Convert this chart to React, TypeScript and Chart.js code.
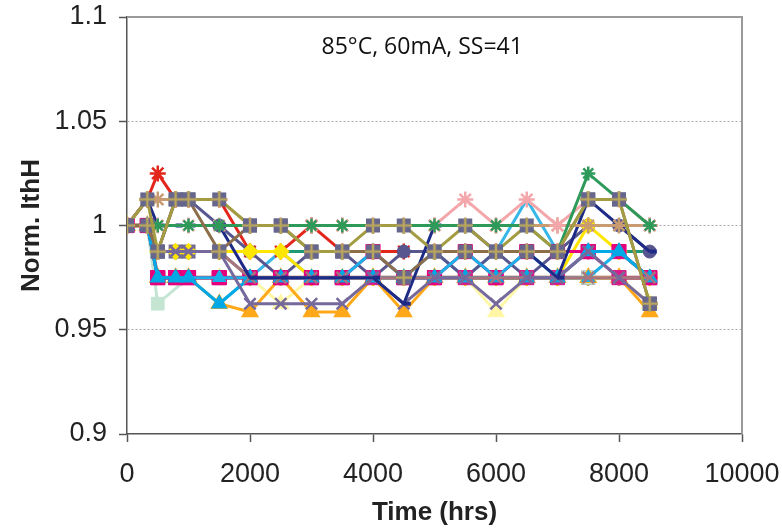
import React, { useEffect, useRef } from "react";
import { Chart, registerables } from "chart.js";

Chart.register(...registerables);

// ---- data ----
const hours = [0, 330, 500, 790, 1000, 1500, 2000, 2500, 3000, 3500, 4000, 4500, 5000, 5500, 6000, 6500, 7000, 7500, 8000, 8500];
const xTicks = [0, 2000, 4000, 6000, 8000, 10000];
const yTicks = [0.9, 0.95, 1, 1.05, 1.1];
const titleText = "85°C, 60mA, SS=41";
const xTitle = "Time (hrs)";
const yTitle = "Norm. IthH";

const devA = [1, 1.0125, 0.9875, 1.0125, 1.0125, 1.0125, 1.0, 1.0, 0.9875, 0.9875, 1.0, 1.0, 0.9875, 1.0, 0.9875, 1.0, 0.9875, 1.0125, 1.0125, 0.9625];
const devB = [1, 1, 0.9875, 1.0125, 1.0125, 0.9875, 1.0, 1.0, 0.9875, 0.9875, 0.9875, 0.975, 0.9875, 0.9875, 0.9875, 0.9875, 0.9875, 1.0125, 1.0125, 0.9625];
const devC = [1, 1, 0.9875, 0.9875, 0.9875, 0.9875, 0.975, 0.975, 0.975, 0.975, 0.975, 0.975, 0.975, 0.975, 0.975, 0.975, 0.975, 0.975, 0.975, 0.9625];
const devRed = [1, 1.0125, 1.025, 1.0125, 1.0125, 1.0125, 0.9875, 0.9875, 1.0, 0.9875, 0.9875, 0.9875, 0.9875, 0.9875, 0.9875, 0.9875, 0.9875, 0.9875, 0.9875, 0.975];
const devGreen = [1, 1, 1, null, 1, 1, 1, 1, 1, 1, 1, 1, 1, 1, 1, 1, 0.9875, 1.025, 1.0125, 1.0];
const devPink = [1, 1, 1, null, 1, 1, 1, 1, 1, 1, 1, 1, 1, 1.0125, 1, 1.0125, 1, 1.0125, 1.0125, 1.0];
const devTan = [1, 1.0125, 1.0125, 1.0125, 1.0125, 1.0125, 1, 1, 1, 1, 1, 1, 1, 1, 1, 1, 1, 1, 1, 1];
const devCircle = [1, 1, 0.9875, 1.0125, 1.0125, 1.0, 0.9875, 0.975, 0.9875, 0.9875, 0.975, 0.9875, 0.9875, 0.975, 0.9875, 0.975, 0.9875, 1.0, 1.0, 0.9875];
const devNavy = [1, 1.0125, 1.0, 1.0, 1.0, 1.0, 0.975, 0.975, 0.975, 0.975, 0.975, 0.9625, 1.0, 1.0, 0.9875, 0.9875, 0.975, 1.0125, 1.0, 0.9875];
const devYellow = [1, 1, 0.9875, 0.9875, 0.9875, 0.9875, 0.9875, 0.9875, 0.975, 0.975, 0.975, 0.975, 0.975, 0.975, 0.975, 0.975, 0.975, 1.0, 0.9875, 0.975];
const devMagenta = [1, 1, 0.975, 0.975, 0.975, 0.975, 0.975, 0.975, 0.975, 0.975, 0.9875, 0.975, 0.975, 0.9875, 0.975, 0.9875, 0.9875, 0.9875, 0.9875, 0.975];
const devMagenta2 = [1, 1, 0.975, 0.975, 0.975, 0.975, 0.975, 0.975, 0.975, 0.975, 0.975, 0.975, 0.975, 0.975, 0.975, 0.975, 0.975, 0.9875, 0.975, 0.975];
const devCyan = [1, 1, 0.975, 0.975, 0.975, 0.9625, 0.975, 0.975, 0.975, 0.975, 0.975, 0.975, 0.975, 0.975, 0.975, 0.975, 0.975, 0.9875, 0.9875, 0.975];
const devCyan2 = [1, 1, 0.975, 0.975, 0.975, 0.975, 0.975, 0.975, 0.975, 0.975, 0.9875, 0.975, 0.975, 0.9875, 0.975, 0.9875, 0.975, 0.975, 0.9875, 0.975];
const devOrange = [1, 1, 0.975, 0.975, 0.975, 0.9625, 0.9585, 0.975, 0.9585, 0.9585, 0.975, 0.9585, 0.975, 0.975, 0.975, 0.975, 0.975, 0.975, 0.975, 0.9585];
const devPurpleX = [1, 1, 0.9875, 0.9875, 0.9875, 0.9875, 0.9625, 0.9625, 0.9625, 0.9625, 0.975, 0.9625, 0.975, 0.975, 0.9625, 0.975, 0.975, 0.9875, 0.975, 0.9625];
const devMauveX = [1, 1, 0.9875, 0.9875, 0.9875, 0.9875, 0.975, 0.975, 0.975, 0.975, 0.975, 0.975, 0.975, 0.975, 0.975, 0.975, 0.975, 0.975, 0.975, 0.975];
const devMint = [1, 1, 0.9625, null, 0.975, 0.975, 0.975, 0.975, 0.975, 0.975, 0.975, 0.975, 0.975, 0.975, 0.975, 0.975, 0.975, 0.975, 0.975, 0.975];
const devLtYellow = [1, 1, 0.975, 0.975, 0.975, 0.975, 0.975, 0.9625, 0.975, 0.975, 0.975, 0.975, 0.975, 0.975, 0.9585, 0.975, 0.975, 0.975, 0.975, 0.9625];
const devSky = [1, 1, 0.975, 0.975, 0.975, 0.9625, 0.975, 0.9875, 0.975, 0.975, 0.975, 0.975, 0.9875, 0.975, 0.9875, 1.0125, 0.9875, 0.9875, 0.9875, 0.975];
const devTeal = [1, 1, 0.9875, 0.9875, 0.9875, 0.9875, 0.9875, 0.9875, 0.9875, 0.9875, 0.9875, 0.9875, 0.9875, 0.9875, 0.9875, 0.9875, 0.9875, 0.9875, 0.9875, 0.9875];
const devBrown = [1, 1, 0.975, 0.975, 0.975, 0.975, 0.975, 0.975, 0.975, 0.975, 0.975, 0.975, 0.975, 0.975, 0.975, 0.975, 0.975, 0.975, 0.975, 0.975];

function makeHash(): HTMLCanvasElement {
  const c = document.createElement("canvas");
  c.width = 16;
  c.height = 16;
  const g = c.getContext("2d")!;
  g.fillStyle = "#66668C";
  g.fillRect(1, 1, 14, 14);
  g.strokeStyle = "#B9A55E";
  g.lineWidth = 2.5;
  g.beginPath();
  g.moveTo(8, 0);
  g.lineTo(8, 16);
  g.moveTo(0, 8);
  g.lineTo(16, 8);
  g.stroke();
  return c;
}

const framePlugin = {
  id: "frameAndTitle",
  afterDraw(chart: any) {
    const { ctx, chartArea: a } = chart;
    ctx.save();
    ctx.strokeStyle = "#9a9a9a";
    ctx.lineWidth = 2;
    ctx.beginPath();
    ctx.moveTo(a.left, a.top);
    ctx.lineTo(a.right, a.top);
    ctx.lineTo(a.right, a.bottom);
    ctx.stroke();
    ctx.fillStyle = "#111";
    ctx.font = '23px "Open Sans"';
    ctx.textAlign = "center";
    ctx.textBaseline = "middle";
    ctx.fillText(titleText, chart.scales.x.getPixelForValue(4800), chart.scales.y.getPixelForValue(1.0855));
    ctx.restore();
  },
};

export default function App() {
  const ref = useRef<HTMLCanvasElement>(null);
  useEffect(() => {
    document.body.style.margin = "0";
    const hash = makeHash();
    const mk = (data: (number | null)[], color: string, style: any, opts: any = {}) => ({
      data: data.map((v, i) => ({ x: hours[i], y: v })),
      borderColor: color,
      backgroundColor: color,
      pointBackgroundColor: color,
      pointBorderColor: color,
      pointStyle: style,
      pointRadius: 6,
      pointBorderWidth: 2.5,
      borderWidth: 3,
      spanGaps: true,
      ...opts,
    });
    const datasets = [
      mk(devA, "#A39C42", hash),
      mk(devB, "#8C6E4A", hash),
      mk(devGreen, "#2E9A5A", "star", { pointRadius: 7 }),
      mk(devPink, "#F4A7AB", "star", { pointRadius: 8 }),
      mk(devTan, "#C99B70", "star", { pointRadius: 8 }),
      mk(devNavy, "#1E2B86", "dash", { pointRadius: 7, pointBorderWidth: 4 }),
      mk(devPurpleX, "#76699B", "crossRot", { pointRadius: 8 }),
      mk(devMauveX, "#A8757E", "crossRot", { pointRadius: 8 }),
      mk(devCyan, "#00A9E6", "triangle", { pointRadius: 7 }),
      mk(devCyan2, "#1BB0E8", "triangle", { pointRadius: 6 }),
      mk(devMagenta, "#E5007D", "rect", { pointRadius: 10, pointBorderWidth: 1 }),
      mk(devMagenta2, "#D81B8A", "rect", { pointRadius: 10, pointBorderWidth: 1 }),
      mk(devYellow, "#FFE600", "rectRot", { pointRadius: 7 }),
      mk(devCircle, "#57568E", "circle", { pointRadius: 6.5, pointBorderWidth: 1 }),
      mk(devRed, "#E3261C", "star", { pointRadius: 8 }),
      mk(devOrange, "#FFA81A", "triangle", { pointRadius: 8 }),
      mk(devMint, "#C4E5D2", "rect", { pointRadius: 9, pointBorderWidth: 1 }),
      mk(devLtYellow, "#FFF7A6", "triangle", { pointRadius: 8 }),
      mk(devC, "#80808A", hash),
      mk(devSky, "#37B6E8", "circle", { pointRadius: 0 }),
      mk(devTeal, "#1E9A74", "circle", { pointRadius: 0 }),
      mk(devBrown, "#8A4B2A", "circle", { pointRadius: 0, borderWidth: 4 }),
    ];
    const chart = new Chart(ref.current!, {
      type: "line",
      data: { datasets },
      plugins: [framePlugin],
      options: {
        animation: false,
        responsive: false,
        layout: { padding: { left: 0, right: 40, top: 17, bottom: 0 } },
        plugins: { legend: { display: false }, tooltip: { enabled: false } },
        scales: {
          x: {
            type: "linear",
            min: 0,
            max: 10000,
            afterBuildTicks: (s: any) => {
              s.ticks = xTicks.map((v) => ({ value: v }));
            },
            afterFit: (s: any) => {
              s.height = 97;
              s.paddingLeft = 0;
              s.paddingRight = 0;
            },
            ticks: {
              color: "#222",
              font: { family: "Liberation Sans", size: 27 },
              padding: 16,
              maxRotation: 0,
              callback: (v: any) => String(v),
            },
            grid: { drawOnChartArea: false, tickColor: "#555", tickLength: 8, tickWidth: 1.5 },
            border: { color: "#555", width: 1.5 },
            title: {
              display: true,
              text: xTitle,
              color: "#222",
              font: { family: "Liberation Sans", size: 26, weight: "bold" },
              padding: { top: 0, bottom: 3 },
            },
          },
          y: {
            type: "linear",
            min: 0.9,
            max: 1.1,
            afterBuildTicks: (s: any) => {
              s.ticks = yTicks.map((v) => ({ value: v }));
            },
            afterFit: (s: any) => {
              s.width = 127;
              s.paddingTop = 0;
              s.paddingBottom = 0;
            },
            ticks: {
              color: "#222",
              font: { family: "Liberation Sans", size: 27 },
              padding: 12,
              callback: (v: any) => String(parseFloat(Number(v).toFixed(2))),
            },
            grid: {
              color: (c: any) =>
                c.tick && (Math.abs(c.tick.value - 1.1) < 1e-6 || Math.abs(c.tick.value - 0.9) < 1e-6)
                  ? "rgba(0,0,0,0)"
                  : "#aaaaaa",
              lineWidth: 1,
              tickColor: "#555",
              tickLength: 8,
              tickWidth: 1.5,
            },
            border: { color: "#555", width: 1.5, dash: [2, 2] },
            title: {
              display: true,
              text: yTitle,
              color: "#222",
              font: { family: "Liberation Sans", size: 26, weight: "bold" },
              padding: { top: 16, bottom: 0 },
            },
          },
        },
      },
    });
    return () => chart.destroy();
  }, []);
  return <canvas ref={ref} width={782} height={531} style={{ display: "block" }} />;
}
